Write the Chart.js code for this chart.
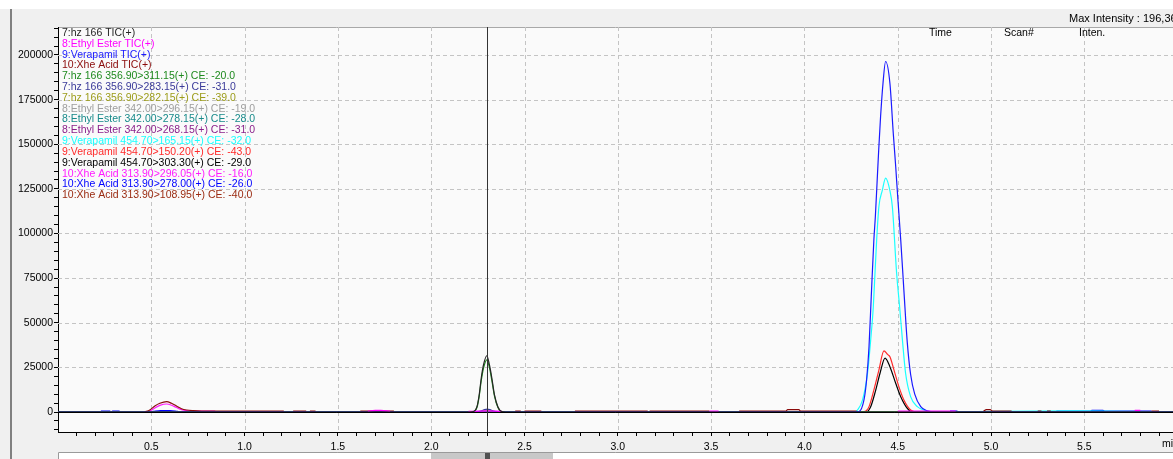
<!DOCTYPE html>
<html><head><meta charset="utf-8">
<script src="https://cdn.jsdelivr.net/npm/chart.js@4.4.0/dist/chart.umd.min.js"></script>
<style>
html,body{margin:0;padding:0;background:#fff;overflow:hidden}
canvas{display:block}
</style></head><body>
<canvas id="c" width="1173" height="459"></canvas>
<script>
// ---------- axis ranges / tick labels ----------
const xMin = 0, xMax = 5.975;
const yMin = -11204, yMax = 215680;
const xMajorTicks = [0.5, 1.0, 1.5, 2.0, 2.5, 3.0, 3.5, 4.0, 4.5, 5.0, 5.5];
const yMajorTicks = [0, 25000, 50000, 75000, 100000, 125000, 150000, 175000, 200000];
const cursorTime = 2.30;
const maxIntensityText = "Max Intensity : 196,363";

// ---------- series (time in min, intensity) ----------
// 7:hz 166 TIC(+)
const hzTIC_t = [0, 2.20, 2.226, 2.245, 2.257, 2.268, 2.280, 2.298, 2.312, 2.325, 2.339, 2.357, 2.379, 2.40, 5.975];
const hzTIC_v = [0, 0, 200, 2970, 9530, 18900, 26340, 31500, 26340, 18900, 9530, 2970, 200, 0, 0];
// 8:Ethyl Ester TIC(+)
const ethylTIC_t = [1.66, 1.70, 1.73, 1.78, 1.79, 2.20, 2.25, 2.30, 2.35, 2.38, 2.39, 3.49, 3.54, 3.55, 4.50, 4.81, 4.82, 5.77, 5.80];
const ethylTIC_v = [500, 900, 900, 500, null, 300, 500, 600, 500, 300, null, 500, 500, null, 500, 500, null, 900, 900];
// 9:Verapamil TIC(+)
const verTIC_t = [0, 4.27, 4.292, 4.319, 4.333, 4.346, 4.358, 4.372, 4.380, 4.389, 4.398, 4.408, 4.421, 4.435, 4.458, 4.476, 4.489, 4.501, 4.516, 4.533, 4.551, 4.569, 4.591, 4.623, 4.659, 4.70, 5.975];
const verTIC_v = [0, 0, 170, 6730, 17940, 36600, 64600, 96400, 109500, 128200, 146900, 165500, 184200, 196363, 184200, 156200, 137500, 118800, 96400, 68000, 39000, 21000, 10000, 3000, 600, 0, 0];
// 10:Xhe Acid TIC(+)
const xheTIC_t = [0.465, 0.492, 0.519, 0.546, 0.582, 0.608, 0.635, 0.662, 0.689, 0.724, 0.769, 1.21, 1.23, 1.26, 1.33, 1.34, 1.35, 1.38, 1.40, 1.62, 1.80, 1.85, 2.45, 2.48, 2.49, 2.50, 2.59, 2.65, 2.77, 3.16, 3.165, 3.17, 3.49, 3.55, 3.65, 3.90, 3.91, 3.97, 3.98, 4.28, 4.30, 4.96, 4.975, 4.995, 5.01, 5.11, 5.15, 5.25, 5.27, 5.29, 5.30, 5.32, 5.40, 5.86, 5.90];
const xheTIC_v = [0, 1120, 3360, 4870, 5780, 4870, 3360, 1850, 1120, 730, 500, 500, null, 500, 500, null, 500, 500, null, 500, 500, null, 500, 500, null, 500, 500, null, 500, 500, null, 500, 500, null, 500, 500, 1300, 1300, 500, 500, null, 500, 1300, 1300, 500, 500, null, 500, 500, null, 500, 500, null, 500, 500];
// 7:hz 166 356.90>311.15(+) CE: -20.0
const hz311_t = [0, 2.22, 2.245, 2.257, 2.268, 2.280, 2.298, 2.312, 2.325, 2.339, 2.357, 2.379, 2.40, 5.975];
const hz311_v = [0, 0, 2500, 8800, 17500, 24500, 29200, 24800, 17600, 8900, 2700, 100, 0, 0];
// 7:hz 166 356.90>283.15(+) CE: -31.0
const hz283_t = [0, 2.24, 2.27, 2.285, 2.30, 2.315, 2.33, 2.36, 5.975];
const hz283_v = [0, 0, 700, 1300, 1600, 1300, 700, 0, 0];
// 7:hz 166 356.90>282.15(+) CE: -39.0
const hz282_t = [0, 2.25, 2.28, 2.30, 2.32, 2.35, 5.975];
const hz282_v = [0, 0, 500, 700, 500, 0, 0];
// 8:Ethyl Ester 342.00>296.15(+) CE: -19.0
const eth296_t = [0, 5.975];
const eth296_v = [0, 0];
// 8:Ethyl Ester 342.00>278.15(+) CE: -28.0
const eth278_t = [0, 5.975];
const eth278_v = [0, 0];
// 8:Ethyl Ester 342.00>268.15(+) CE: -31.0
const eth268_t = [0, 5.975];
const eth268_v = [0, 0];
// 9:Verapamil 454.70>165.15(+) CE: -32.0
const ver165_t = [0, 4.27, 4.284, 4.311, 4.338, 4.355, 4.369, 4.378, 4.387, 4.399, 4.417, 4.435, 4.458, 4.471, 4.494, 4.510, 4.525, 4.542, 4.569, 4.605, 4.64, 4.67, 5.42, 5.46, 5.975];
const ver165_v = [0, 0, 1100, 6700, 21700, 40400, 59000, 77700, 96400, 115100, 124000, 131000, 124000, 115100, 77700, 59000, 40400, 21700, 8600, 3000, 1100, 0, 700, 700, 0];
// 9:Verapamil 454.70>150.20(+) CE: -43.0
const ver150_t = [0, 4.29, 4.319, 4.346, 4.372, 4.399, 4.426, 4.445, 4.458, 4.480, 4.506, 4.533, 4.569, 4.60, 5.975];
const ver150_v = [0, 0, 170, 3000, 12300, 23500, 34200, 32300, 31000, 23500, 14200, 6700, 1100, 0, 0];
// 9:Verapamil 454.70>303.30(+) CE: -29.0
const ver303_t = [0, 4.33, 4.355, 4.382, 4.405, 4.432, 4.458, 4.489, 4.516, 4.551, 4.58, 5.975];
const ver303_v = [0, 0, 3000, 12300, 21700, 30200, 25400, 16100, 8600, 2100, 0, 0];
// 10:Xhe Acid 313.90>296.05(+) CE: -16.0
const xhe296_t = [0.49, 0.519, 0.546, 0.582, 0.608, 0.635, 0.662, 0.689, 0.724, 0.77, 0.84, 0.845];
const xhe296_v = [300, 2300, 3700, 4480, 3800, 2500, 1300, 800, 500, 450, 450, 0];
// 10:Xhe Acid 313.90>278.00(+) CE: -26.0
const xhe278_t = [0.23, 0.28, 0.285, 0.29, 0.33, 0.335, 0.49, 0.51, 0.55, 0.60, 0.64, 0.66, 0.665, 4.78, 4.82, 4.825, 5.35, 5.53, 5.54, 5.60, 5.61, 5.86];
const xhe278_v = [450, 450, null, 450, 450, null, 0, 300, 800, 800, 300, 0, null, 500, 500, null, 500, 500, 900, 900, 500, 500];
// 10:Xhe Acid 313.90>108.95(+) CE: -40.0
const xhe108_t = [0, 0.50, 0.58, 0.66, 0.72, 5.975];
const xhe108_v = [0, 0, 400, 200, 0, 0];

const seriesDefs = [
  ["7:hz 166 TIC(+)", "#262626", hzTIC_t, hzTIC_v],
  ["8:Ethyl Ester TIC(+)", "#ff00ff", ethylTIC_t, ethylTIC_v],
  ["9:Verapamil TIC(+)", "#1a1aff", verTIC_t, verTIC_v],
  ["10:Xhe Acid TIC(+)", "#8b0a0a", xheTIC_t, xheTIC_v],
  ["7:hz 166 356.90>311.15(+) CE: -20.0", "#1f8a1f", hz311_t, hz311_v],
  ["7:hz 166 356.90>283.15(+) CE: -31.0", "#3a3a99", hz283_t, hz283_v],
  ["7:hz 166 356.90>282.15(+) CE: -39.0", "#9c9c1a", hz282_t, hz282_v],
  ["8:Ethyl Ester 342.00>296.15(+) CE: -19.0", "#9e9e9e", eth296_t, eth296_v],
  ["8:Ethyl Ester 342.00>278.15(+) CE: -28.0", "#178a8a", eth278_t, eth278_v],
  ["8:Ethyl Ester 342.00>268.15(+) CE: -31.0", "#8a1f8a", eth268_t, eth268_v],
  ["9:Verapamil 454.70>165.15(+) CE: -32.0", "#1affff", ver165_t, ver165_v],
  ["9:Verapamil 454.70>150.20(+) CE: -43.0", "#ff2a2a", ver150_t, ver150_v],
  ["9:Verapamil 454.70>303.30(+) CE: -29.0", "#000000", ver303_t, ver303_v],
  ["10:Xhe Acid 313.90>296.05(+) CE: -16.0", "#ff1aff", xhe296_t, xhe296_v],
  ["10:Xhe Acid 313.90>278.00(+) CE: -26.0", "#0000ff", xhe278_t, xhe278_v],
  ["10:Xhe Acid 313.90>108.95(+) CE: -40.0", "#9a2a10", xhe108_t, xhe108_v]
];

const datasets = seriesDefs.map(([label, color, ts, vs]) => ({
  label,
  borderColor: color,
  backgroundColor: color,
  data: ts.map((t, i) => ({ x: t, y: vs[i] })),
  borderWidth: 1.2,
  pointRadius: 0,
  fill: false,
  spanGaps: false,
  cubicInterpolationMode: 'monotone'
}));

// axis tick positions (minor every 0.1 min / 5000 counts)
const xTicksAll = [];
for (let i = 1; i * 0.1 <= xMax; i++) xTicksAll.push(Math.round(i) / 10);
const yTicksAll = [];
for (let v = -10000; v <= 215000; v += 5000) yTicksAll.push(v);

const FONT = "'Liberation Sans', Arial, sans-serif";
const isMajorX = v => xMajorTicks.some(m => Math.abs(m - v) < 1e-6);
const isMajorY = v => yMajorTicks.includes(v);

const decor = {
  id: 'decor',
  beforeDraw(chart) {
    const { ctx, chartArea: a, width, height } = chart;
    ctx.save();
    ctx.fillStyle = '#ffffff'; ctx.fillRect(0, 0, width, height);
    ctx.fillStyle = '#f0f0f0'; ctx.fillRect(0, 9, width, height - 9);
    ctx.fillStyle = '#808080'; ctx.fillRect(10, 9, 2, height - 9);
    ctx.fillStyle = '#fafafa'; ctx.fillRect(a.left, a.top, a.right - a.left, a.bottom - a.top);
    ctx.strokeStyle = '#a8a8a8'; ctx.lineWidth = 1;
    ctx.beginPath(); ctx.moveTo(a.left, a.top + 0.5); ctx.lineTo(a.right, a.top + 0.5); ctx.stroke();
    ctx.restore();
  },
  beforeDatasetsDraw(chart) {
    const { ctx, chartArea: a, scales: { x, y } } = chart;
    ctx.save();
    ctx.strokeStyle = '#c4c4c4'; ctx.lineWidth = 1; ctx.setLineDash([4, 3]);
    xMajorTicks.forEach(v => {
      const px = Math.round(x.getPixelForValue(v)) + 0.5;
      ctx.beginPath(); ctx.moveTo(px, a.top); ctx.lineTo(px, a.bottom); ctx.stroke();
    });
    yMajorTicks.filter(v => v !== 0).forEach(v => {
      const py = Math.round(y.getPixelForValue(v)) + 0.5;
      ctx.beginPath(); ctx.moveTo(a.left, py); ctx.lineTo(a.right, py); ctx.stroke();
    });
    ctx.restore();
  },
  afterDatasetsDraw(chart) {
    const { ctx, chartArea: a, scales: { x, y } } = chart;
    ctx.save();
    // zero line
    const y0 = Math.round(y.getPixelForValue(0)) + 0.5;
    ctx.strokeStyle = '#000'; ctx.lineWidth = 1;
    ctx.beginPath(); ctx.moveTo(a.left, y0); ctx.lineTo(a.right, y0); ctx.stroke();
    // cursor line
    const cx = Math.round(x.getPixelForValue(cursorTime)) + 0.5;
    ctx.strokeStyle = '#333';
    ctx.beginPath(); ctx.moveTo(cx, a.top); ctx.lineTo(cx, a.bottom); ctx.stroke();
    // legend text
    ctx.font = "10.5px " + FONT;
    ctx.textBaseline = 'middle';
    ctx.textAlign = 'left';
    chart.data.datasets.forEach((ds, i) => {
      ctx.fillStyle = ds.borderColor;
      ctx.fillText(ds.label, a.left + 4, a.top + 6 + i * 10.82);
    });
    // header columns
    ctx.fillStyle = '#000';
    ctx.fillText("Time", 929, a.top + 6);
    ctx.fillText("Scan#", 1004, a.top + 6);
    ctx.fillText("Inten.", 1079, a.top + 6);
    ctx.restore();
  },
  afterDraw(chart) {
    const { ctx, chartArea: a, scales: { x }, width, height } = chart;
    ctx.save();
    ctx.textBaseline = 'middle';
    ctx.fillStyle = '#000';
    ctx.font = "11px " + FONT;
    ctx.fillText(maxIntensityText, 1069, 19);
    ctx.font = "10.5px " + FONT;
    ctx.fillText("min", 1162, 444);
    // scroll bar
    const sy = 452;
    ctx.fillStyle = '#ffffff'; ctx.fillRect(a.left, sy, width - a.left, height - sy);
    ctx.strokeStyle = '#9a9a9a'; ctx.lineWidth = 1;
    ctx.beginPath(); ctx.moveTo(a.left + 0.5, height); ctx.lineTo(a.left + 0.5, sy + 0.5); ctx.lineTo(width, sy + 0.5); ctx.stroke();
    const cx = Math.round(x.getPixelForValue(cursorTime));
    ctx.fillStyle = '#c8c8c8'; ctx.fillRect(cx - 56, sy + 1, 122, height - sy - 1);
    ctx.fillStyle = '#505050'; ctx.fillRect(cx - 2, sy + 1, 5, height - sy - 1);
    ctx.restore();
  }
};

new Chart(document.getElementById('c'), {
  type: 'line',
  data: { datasets },
  options: {
    responsive: false,
    animation: false,
    devicePixelRatio: 1,
    layout: { padding: { top: 27, left: 0, right: 0, bottom: 0 } },
    plugins: { legend: { display: false }, tooltip: { enabled: false } },
    elements: { point: { radius: 0 }, line: { borderWidth: 1 } },
    scales: {
      x: {
        type: 'linear', min: xMin, max: xMax,
        afterBuildTicks(s) { s.ticks = xTicksAll.map(v => ({ value: v })); },
        afterFit(s) { s.height = 27; },
        ticks: {
          autoSkip: false, maxRotation: 0, minRotation: 0, color: '#000', padding: 5,
          font: { family: FONT, size: 10.5 },
          callback: v => isMajorX(v) ? v.toFixed(1) : ''
        },
        grid: { drawOnChartArea: false, drawTicks: true, tickLength: 4, tickColor: '#000' },
        border: { display: true, color: '#000', width: 1 }
      },
      y: {
        type: 'linear', min: yMin, max: yMax,
        afterBuildTicks(s) { s.ticks = yTicksAll.map(v => ({ value: v })); },
        afterFit(s) { s.width = 58; },
        ticks: {
          autoSkip: false, color: '#000', padding: 1,
          font: { family: FONT, size: 10.5 },
          callback: v => isMajorY(v) ? String(v) : ''
        },
        grid: { drawOnChartArea: false, drawTicks: true, tickLength: 4, tickColor: '#000' },
        border: { display: true, color: '#000', width: 1 }
      }
    }
  },
  plugins: [decor]
});
</script>
</body></html>
